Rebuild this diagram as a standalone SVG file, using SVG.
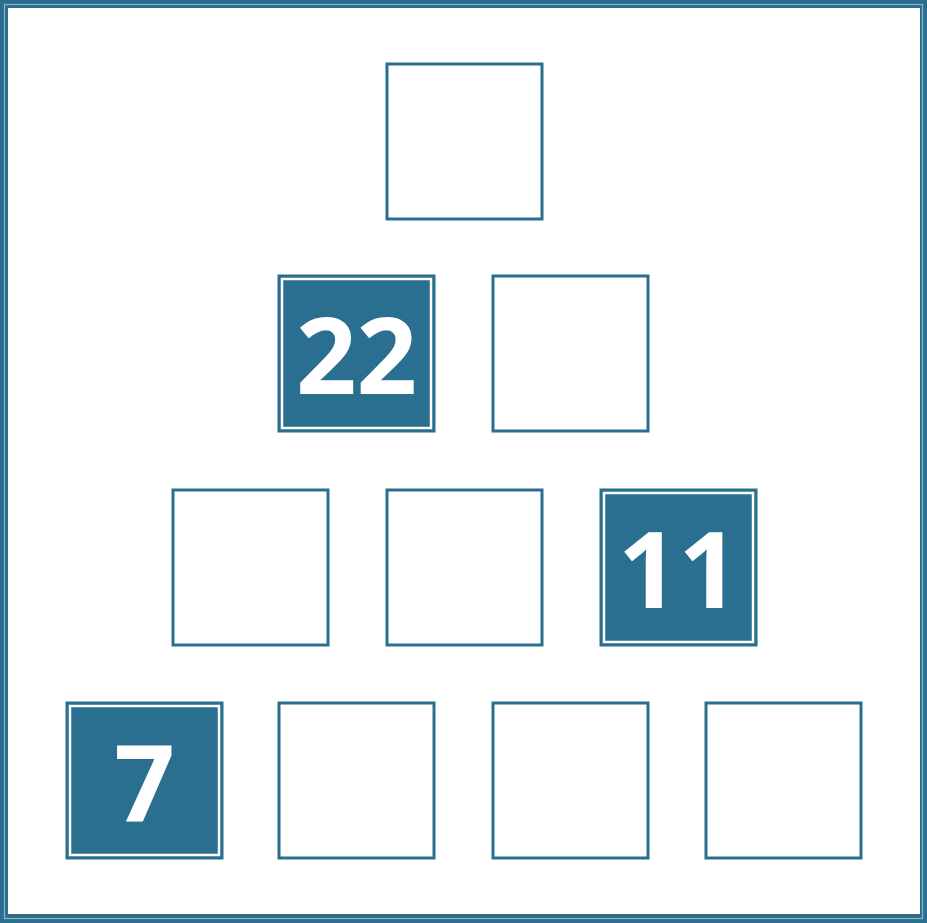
<svg xmlns="http://www.w3.org/2000/svg" width="927" height="923" viewBox="0 0 927 923">
<defs>
<style>
.frame{fill:#2a6f8f}
.frameline{fill:none;stroke:#8fb3c5;stroke-width:1.2}
.box{fill:#ffffff;stroke:#2a6f8f;stroke-width:3}
.fbox{fill:#2a6f8f;stroke:#2a6f8f;stroke-width:3}
.inner{fill:none;stroke:#ffffff;stroke-width:2.5}
.num{font-family:"Open Sans","Noto Sans","DejaVu Sans",sans-serif;font-weight:700;font-size:106px;fill:#ffffff;text-anchor:middle}
</style>
</defs>
<rect class="frame" x="0" y="0" width="927" height="923"/>
<rect class="frameline" x="4.5" y="4.5" width="918" height="914"/>
<rect x="8" y="8" width="912" height="906" fill="#ffffff"/>
<g id="r0c0"><rect class="box" x="387" y="64" width="155" height="155"/></g>
<g id="r1c0"><rect class="fbox" x="279" y="276" width="155" height="155"/><rect class="inner" x="282" y="279" width="149" height="149"/><text class="num" x="356.5" y="394">22</text></g>
<g id="r1c1"><rect class="box" x="493" y="276" width="155" height="155"/></g>
<g id="r2c0"><rect class="box" x="173" y="490" width="155" height="155"/></g>
<g id="r2c1"><rect class="box" x="387" y="490" width="155" height="155"/></g>
<g id="r2c2"><rect class="fbox" x="601" y="490" width="155" height="155"/><rect class="inner" x="604" y="493" width="149" height="149"/><text class="num" x="678.5" y="608">11</text></g>
<g id="r3c0"><rect class="fbox" x="67" y="703" width="155" height="155"/><rect class="inner" x="70" y="706" width="149" height="149"/><text class="num" x="144.5" y="821">7</text></g>
<g id="r3c1"><rect class="box" x="279" y="703" width="155" height="155"/></g>
<g id="r3c2"><rect class="box" x="493" y="703" width="155" height="155"/></g>
<g id="r3c3"><rect class="box" x="706" y="703" width="155" height="155"/></g>
<g id="connectors"></g>
</svg>
